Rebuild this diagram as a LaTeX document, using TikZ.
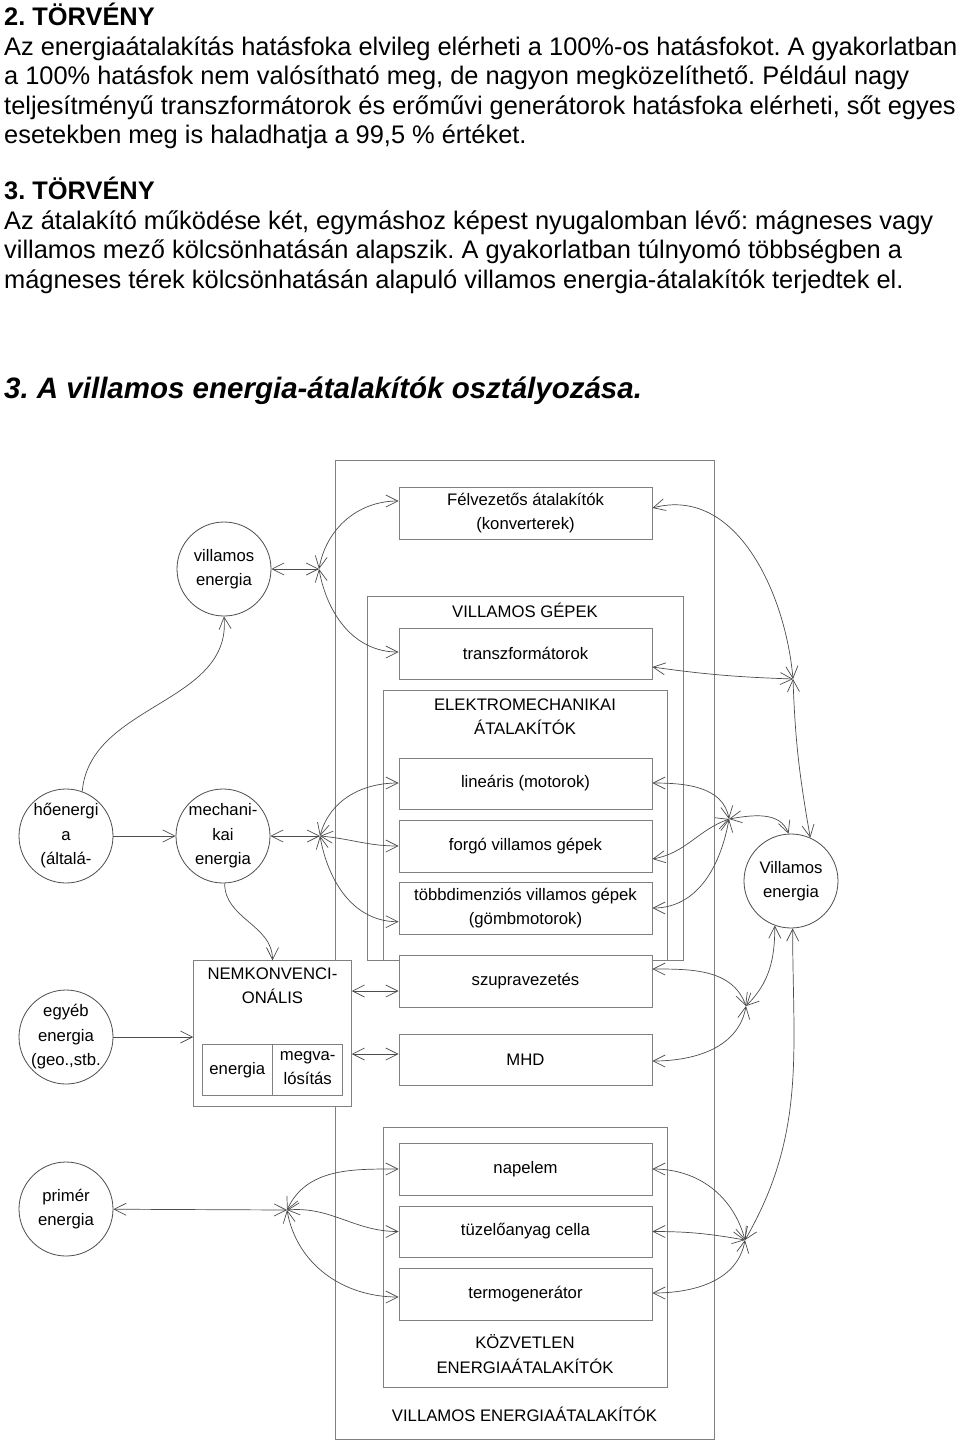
\documentclass[tikz,border=0pt]{standalone}
\usepackage{fontspec}
\setmainfont{Liberation Sans}
\usetikzlibrary{arrows.meta}
\newcommand{\diagfont}{\fontsize{16.7}{24.5}\selectfont}
\newcommand{\szovegfont}{\fontsize{25.4}{29.5}\selectfont}
\frenchspacing

\begin{document}
\begin{tikzpicture}[x=1pt,y=-1pt,
    >={Straight Barb[length=12pt,width=12pt]},
    conn/.style={draw=black!70, line width=0.7pt},
    keret/.style={draw=black!50, line width=0.9pt},
    doboz/.style={draw=black!50, line width=0.9pt, fill=white, minimum width=253pt,
        inner sep=0pt, align=center, font=\diagfont},
    kor/.style={circle, draw=black!70, line width=0.8pt, minimum size=94pt,
        inner sep=-15pt, align=center, font=\diagfont},
    felirat/.style={align=center, font=\diagfont, inner sep=0pt},
    sor/.style={anchor=base west, inner sep=0pt, font=\szovegfont}]
    \useasboundingbox (0,0) rectangle (960,1440);

    % Text above the diagram
    \node[sor, font=\szovegfont\bfseries] (t1) at (4,25.5) {2. TÖRVÉNY};
    \node[sor] (t2) at (4,55) {Az energiaátalakítás hatásfoka elvileg elérheti a 100\%-os hatásfokot. A gyakorlatban};
    \node[sor] (t3) at (4,84.5) {a 100\% hatásfok nem valósítható meg, de nagyon megközelíthető. Például nagy};
    \node[sor] (t4) at (4,114) {teljesítményű transzformátorok és erőművi generátorok hatásfoka elérheti, sőt egyes};
    \node[sor] (t5) at (4,143.5) {esetekben meg is haladhatja a 99,5 \% értéket.};
    \node[sor, font=\szovegfont\bfseries] (t6) at (4,199.5) {3. TÖRVÉNY};
    \node[sor] (t7) at (4,229) {Az átalakító működése két, egymáshoz képest nyugalomban lévő: mágneses vagy};
    \node[sor] (t8) at (4,258.5) {villamos mező kölcsönhatásán alapszik. A gyakorlatban túlnyomó többségben a};
    \node[sor] (t9) at (4,288) {mágneses térek kölcsönhatásán alapuló villamos energia-átalakítók terjedtek el.};
    \node[sor, font=\fontsize{29.5}{34}\selectfont\bfseries\itshape] (cim) at (4,398) {3. A villamos energia-átalakítók osztályozása.};

    % Frames
    \draw[keret] (335,460) rectangle (714,1439);
    \node[felirat] (cimV) at (524.5,1414) {VILLAMOS ENERGIAÁTALAKÍTÓK};
    \draw[keret] (367,596) rectangle (683,960);
    \node[felirat] (cimG) at (525,610) {VILLAMOS GÉPEK};
    \draw[keret] (383,690) rectangle (667,960);
    \node[felirat] (cimE) at (525,716.5) {ELEKTROMECHANIKAI\\ÁTALAKÍTÓK};
    \draw[keret] (383,1127) rectangle (667,1387);
    \node[felirat] (cimK) at (525,1354) {KÖZVETLEN\\ENERGIAÁTALAKÍTÓK};

    % Converter boxes
    \node[doboz, minimum height=52pt] (felv) at (525.5,513) {Félvezetős átalakítók\\(konverterek)};
    \node[doboz, minimum height=51pt] (transz) at (525.5,653.5) {transzformátorok};
    \node[doboz, minimum height=51pt] (linearis) at (525.5,783.5) {lineáris (motorok)};
    \node[doboz, minimum height=52pt] (forgo) at (525.5,846) {forgó villamos gépek};
    \node[doboz, minimum height=52pt] (tobbdim) at (525.5,908) {többdimenziós villamos gépek\\(gömbmotorok)};
    \node[doboz, minimum height=52pt] (szupra) at (525.5,981) {szupravezetés};
    \node[doboz, minimum height=51pt] (mhd) at (525.5,1059.5) {MHD};
    \node[doboz, minimum height=52pt] (napelem) at (525.5,1169) {napelem};
    \node[doboz, minimum height=51pt] (tuzelo) at (525.5,1231.5) {tüzelőanyag cella};
    \node[doboz, minimum height=52pt] (termo) at (525.5,1294) {termogenerátor};

    % Unconventional box
    \node[draw=black!50, line width=0.9pt, fill=white, minimum width=157.6pt,
        minimum height=145.3pt, inner sep=0pt] (nemk) at (272.5,1033.4) {};
    \node[felirat] (nemkcim) at (272.5,985.5) {NEMKONVENCI-\\ONÁLIS};
    \draw[keret] (202,1044) rectangle (342.7,1095.7);
    \draw[keret] (272.7,1044) -- (272.7,1095.7);
    \node[felirat] (nemken) at (237.3,1069.8) {energia};
    \node[felirat] (nemkmeg) at (307.7,1068) {megva-\\lósítás};

    % Energy circles
    \node[kor] (villE) at (224,569) {villamos\\energia};
    \node[kor] (hoE) at (66,836) {hőenergi\\a\\(általá-};
    \node[kor] (mechE) at (223,836) {mechani-\\kai\\energia};
    \node[kor] (egyebE) at (66,1037) {egyéb\\energia\\(geo.,stb.};
    \node[kor] (primE) at (66,1209) {primér\\energia};
    \node[kor] (villE2) at (791,881) {Villamos\\energia};

    % Junctions
    \coordinate (j1) at (319,569);
    \coordinate (j2) at (320,836);
    \coordinate (j3) at (287,1210);
    \coordinate (j4) at (729,819);
    \coordinate (j5) at (793,679);
    \coordinate (j6) at (746,1006);
    \coordinate (j7) at (745,1240);

    % Left side connections
    \draw[conn,<->] (villE) -- (j1);
    \draw[conn,<->] (j1) to[out=80,in=180] ([yshift=12pt]felv.west);
    \draw[conn,<->] (j1) to[out=-80,in=180] ([yshift=1.5pt]transz.west);
    \draw[conn,<->] (mechE) -- (j2);
    \draw[conn,<->] (j2) to[out=75,in=180] ([yshift=0.5pt]linearis.west);
    \draw[conn,<->] (j2) to[out=-5,in=180] (forgo.west);
    \draw[conn,<->] (j2) to[out=-80,in=180] ([yshift=-13.7pt]tobbdim.west);
    \draw[conn,->] (hoE) -- (mechE);
    \draw[conn,->] (hoE.70) to[out=85,in=-85] (villE.south);
    \draw[conn,->] (mechE.-88) to[out=-90,in=90] (nemk.north);
    \draw[conn,->] (egyebE) -- (egyebE -| nemk.west);
    \coordinate (sz) at ([yshift=-10pt]szupra.west);
    \draw[conn,<->] (sz -| nemk.east) -- (sz);
    \coordinate (mh) at ([yshift=5.5pt]mhd.west);
    \draw[conn,<->] (mh -| nemk.east) -- (mh);
    \draw[conn,<->] (primE) -- (j3);
    \draw[conn,<->] (j3) to[out=65,in=180] (napelem.west);
    \draw[conn,<->] (j3) to[out=5,in=180] (tuzelo.west);
    \draw[conn,<->] (j3) to[out=-80,in=180] ([yshift=-3pt]termo.west);

    % Right side connections
    \draw[conn,<->] (j4) to[out=100,in=0] ([yshift=0.5pt]linearis.east);
    \draw[conn,<->] (j4) to[out=200,in=10] ([yshift=-13pt]forgo.east);
    \draw[conn,<->] (j4) to[out=-100,in=0] (tobbdim.east);
    \draw[conn,<->] (j4) to[out=10,in=110] (villE2.93);
    \draw[conn,<->] (j5) to[out=95,in=15] ([yshift=5pt]felv.east);
    \draw[conn,<->] (j5) to[out=178,in=-8] ([yshift=-13.5pt]transz.east);
    \draw[conn,<->] (j5) to[out=-88,in=100] (villE2.66);
    \draw[conn,<->] (j6) to[out=110,in=0] ([yshift=12pt]szupra.east);
    \draw[conn,<->] (j6) to[out=-100,in=0] ([yshift=-1.5pt]mhd.east);
    \draw[conn,<->] (j6) to[out=45,in=-90] (villE2.250);
    \draw[conn,<->] (j7) to[out=105,in=0] (napelem.east);
    \draw[conn,<->] (j7) to[out=170,in=0] (tuzelo.east);
    \draw[conn,<->] (j7) to[out=-100,in=0] ([yshift=1pt]termo.east);
    \draw[conn,<->] (j7) to[out=60,in=-90] (villE2.272);
\end{tikzpicture}
\end{document}
